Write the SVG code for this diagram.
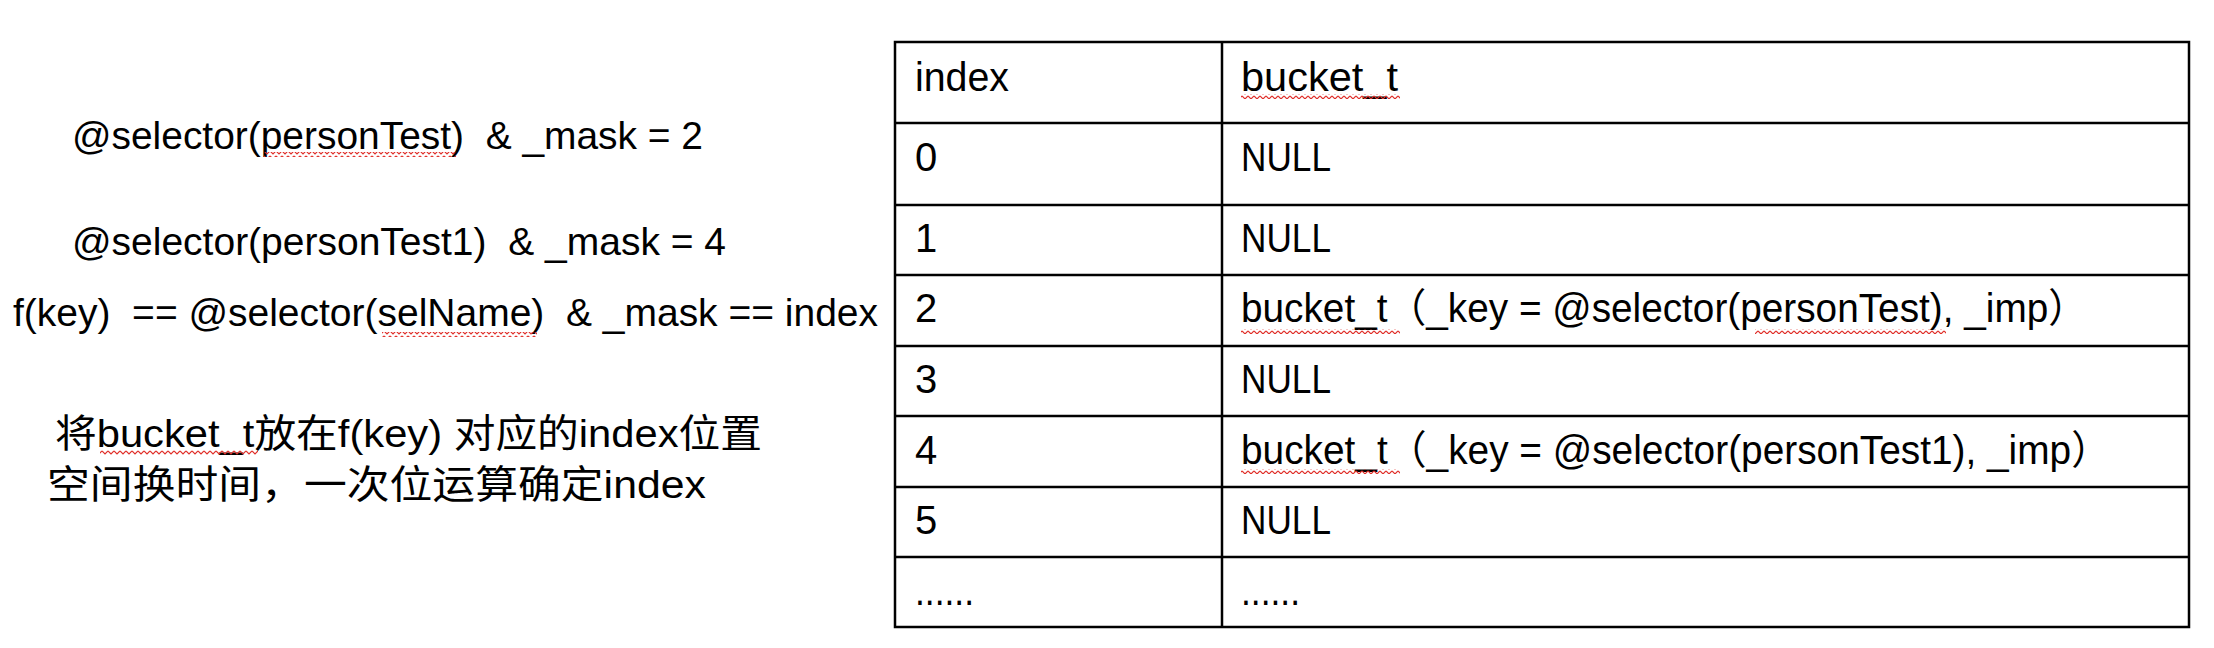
<svg xmlns="http://www.w3.org/2000/svg" width="2214" height="648" viewBox="0 0 2214 648">
<style>
text{font-family:"Liberation Sans","Noto Sans CJK SC",sans-serif;fill:#000}
.l{font-size:39px}
.t{font-size:40px}
.grid{stroke:#000;stroke-width:2.5;fill:none}
.sq{fill:url(#zig)}
</style>
<defs>
<pattern id="zig" width="6" height="5" patternUnits="userSpaceOnUse">
<polyline points="0,1 3,4 6,1" fill="none" stroke="#e0302a" stroke-width="1.2"/>
</pattern>
</defs>
<rect width="2214" height="648" fill="#fff"/>
<g id="notes">
<text class="l" x="72" y="149" textLength="631" lengthAdjust="spacingAndGlyphs" xml:space="preserve">@selector(personTest)  &amp; _mask = 2</text>
<text class="l" x="72" y="255" textLength="654" lengthAdjust="spacingAndGlyphs" xml:space="preserve">@selector(personTest1)  &amp; _mask = 4</text>
<text class="l" x="13" y="326" textLength="865" lengthAdjust="spacingAndGlyphs" xml:space="preserve">f(key)  == @selector(selName)  &amp; _mask == index</text>
<text class="l" x="55" y="447" textLength="707" lengthAdjust="spacingAndGlyphs">将bucket_t放在f(key) 对应的index位置</text>
<text class="l" x="47" y="498" textLength="659" lengthAdjust="spacingAndGlyphs">空间换时间，一次位运算确定index</text>
<rect class="sq" x="264" y="152" width="192" height="5"/>
<rect class="sq" x="382" y="332" width="155" height="5"/>
<rect class="sq" x="100" y="450" width="158" height="5"/>
</g>
<g id="table">
<rect class="grid" x="895" y="42" width="1294" height="585"/>
<line class="grid" x1="1222" y1="42" x2="1222" y2="627"/>
<line class="grid" x1="895" y1="123" x2="2189" y2="123"/>
<line class="grid" x1="895" y1="205" x2="2189" y2="205"/>
<line class="grid" x1="895" y1="275" x2="2189" y2="275"/>
<line class="grid" x1="895" y1="346" x2="2189" y2="346"/>
<line class="grid" x1="895" y1="416" x2="2189" y2="416"/>
<line class="grid" x1="895" y1="487" x2="2189" y2="487"/>
<line class="grid" x1="895" y1="557" x2="2189" y2="557"/>
<g id="row-header">
<text class="t" x="915" y="91" textLength="94" lengthAdjust="spacingAndGlyphs">index</text>
<text class="t" x="1241" y="91" textLength="157" lengthAdjust="spacingAndGlyphs">bucket_t</text>
<rect class="sq" x="1241" y="94" width="159" height="5"/>
</g>
<g id="row-0">
<text class="t" x="915" y="171">0</text>
<text class="t" x="1241" y="171" textLength="90" lengthAdjust="spacingAndGlyphs">NULL</text>
</g>
<g id="row-1">
<text class="t" x="915" y="252">1</text>
<text class="t" x="1241" y="252" textLength="90" lengthAdjust="spacingAndGlyphs">NULL</text>
</g>
<g id="row-2">
<text class="t" x="915" y="322">2</text>
<text class="t" x="1241" y="322" textLength="846" lengthAdjust="spacingAndGlyphs">bucket_t（_key = @selector(personTest), _imp）</text>
<rect class="sq" x="1241" y="329" width="159" height="5"/>
<rect class="sq" x="1755" y="329" width="191" height="5"/>
</g>
<g id="row-3">
<text class="t" x="915" y="393">3</text>
<text class="t" x="1241" y="393" textLength="90" lengthAdjust="spacingAndGlyphs">NULL</text>
</g>
<g id="row-4">
<text class="t" x="915" y="464">4</text>
<text class="t" x="1241" y="464" textLength="869" lengthAdjust="spacingAndGlyphs">bucket_t（_key = @selector(personTest1), _imp）</text>
<rect class="sq" x="1241" y="469" width="159" height="5"/>
</g>
<g id="row-5">
<text class="t" x="915" y="534">5</text>
<text class="t" x="1241" y="534" textLength="90" lengthAdjust="spacingAndGlyphs">NULL</text>
</g>
<g id="row-more">
<text class="t" x="915" y="605" textLength="59" lengthAdjust="spacingAndGlyphs">......</text>
<text class="t" x="1241" y="605" textLength="59" lengthAdjust="spacingAndGlyphs">......</text>
</g>
</g>
<g id="connectors"/>
</svg>
